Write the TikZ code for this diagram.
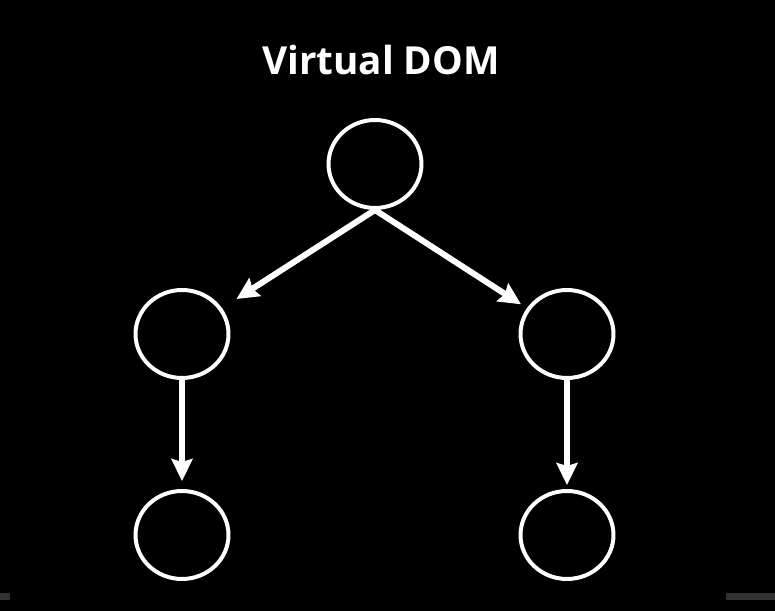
\documentclass[tikz,border=0pt]{standalone}
\usepackage{fontspec}
\setmainfont{Open Sans}
\usepackage{xcolor}
\definecolor{vdback}{RGB}{0,0,0}
\definecolor{vdwhite}{RGB}{255,255,255}
\definecolor{vdgray}{RGB}{50,50,50}
\usetikzlibrary{arrows.meta,positioning,shapes.geometric}

\begin{document}
\begin{tikzpicture}[x=0.02cm,y=-0.02cm,
  vnode/.style={draw=vdwhite,line width=4pt*0.567,ellipse,minimum width=1.86cm,minimum height=1.76cm,inner sep=0pt},
  arr/.style={draw=vdwhite,line width=6pt*0.567,-{Stealth[length=0.44cm,width=0.42cm,inset=0.06cm]}}]
  % Background and frame
  \fill[vdback] (0,0) rectangle (775,611);
  \useasboundingbox (0,0) rectangle (775,611);
  \fill[vdgray] (0,593) rectangle (10,600);
  \fill[vdgray] (726,593) rectangle (775,600);
  % Title
  \node[font=\fontsize{22}{26}\selectfont\bfseries,text=vdwhite] (title) at (381,60) {Virtual DOM};
  % Tree nodes
  \node[vnode] (root) at (375,164) {};
  \node[vnode] (ml) at (182,334) {};
  \node[vnode] (mr) at (567,334) {};
  \node[vnode] (bl) at (182,535) {};
  \node[vnode] (br) at (567,535) {};
  % Edges
  \draw[arr,shorten >=0.34cm] (root.south) -- (ml);
  \draw[arr,shorten >=0.14cm] (root.south) -- (mr);
  \draw[arr,shorten >=0.16cm] (ml.south) -- (bl);
  \draw[arr,shorten >=0.08cm] (mr.south) -- (br);
\end{tikzpicture}
\end{document}
